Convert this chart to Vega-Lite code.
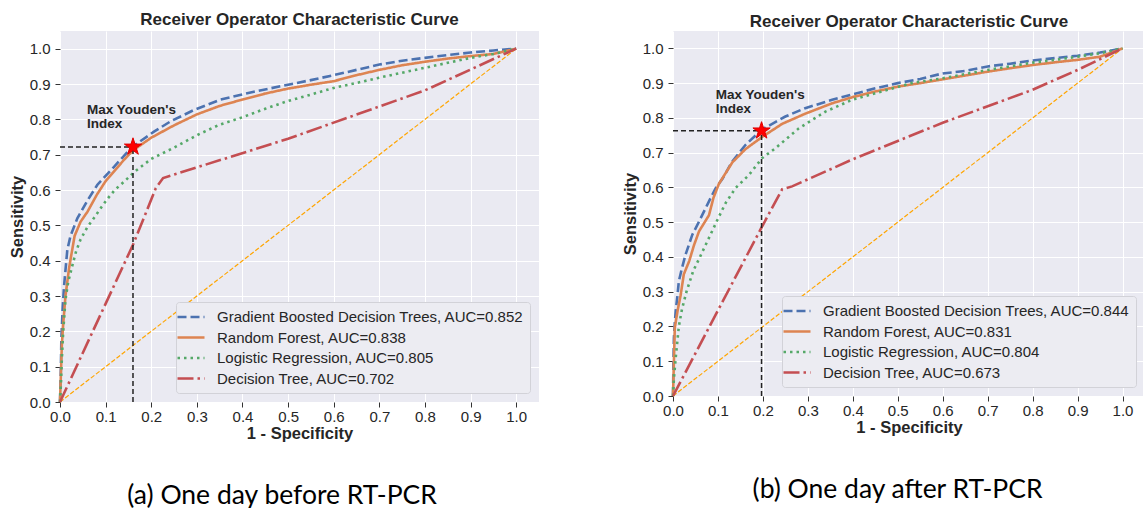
{
  "$schema": "https://vega.github.io/schema/vega-lite/v6.json",
  "background": "white",
  "padding": {"left": 9, "top": 11, "right": 0, "bottom": 0},
  "spacing": 83,
  "config": {
    "view": {"fill": "#EAEAF2", "stroke": null},
    "axis": {
      "domain": false, "grid": true, "gridColor": "#FFFFFF", "gridWidth": 1,
      "tickColor": "#333333", "tickSize": 5, "tickWidth": 1,
      "labelFont": "Liberation Sans", "labelFontSize": 15, "labelColor": "#262626", "labelFlush": false,
      "titleFont": "Liberation Sans", "titleFontSize": 16.5, "titleFontWeight": "bold", "titleColor": "#262626",
      "values": [0, 0.1, 0.2, 0.3, 0.4, 0.5, 0.6, 0.7, 0.8, 0.9, 1], "format": ".1f", "labelOverlap": false
    },
    "axisX": {"titlePadding": 1, "labelPadding": 2},
    "axisY": {"titlePadding": 4, "labelPadding": 5},
    "legend": {
      "orient": "bottom-right", "offset": 9,
      "fillColor": "#ECECF2", "strokeColor": "#D2D2D8", "cornerRadius": 3, "padding": 6,
      "symbolType": "M-1.8,0L1.8,0", "symbolSize": 225, "symbolStrokeWidth": 2.6,
      "labelFont": "Liberation Sans", "labelFontSize": 15, "labelColor": "#262626",
      "labelOffset": 17, "rowPadding": 3.5, "labelLimit": 600
    }
  },
  "datasets": {
    "diag": [{"fpr": 0, "tpr": 0}, {"fpr": 1, "tpr": 1}],
    "youdenA": [{"fpr": 0.16, "tpr": 0.722, "base": 0}],
    "youdenB": [{"fpr": 0.197, "tpr": 0.763, "base": 0}],
    "noteA": [{"fpr": 0.059, "tpr": 0.815, "label": "Max Youden's\nIndex"}],
    "noteB": [{"fpr": 0.095, "tpr": 0.853, "label": "Max Youden's\nIndex"}],
    "rocA": [
      {"series": "Gradient Boosted Decision Trees, AUC=0.852", "fpr": 0, "tpr": 0},
      {"series": "Gradient Boosted Decision Trees, AUC=0.852", "fpr": 0.002, "tpr": 0.1},
      {"series": "Gradient Boosted Decision Trees, AUC=0.852", "fpr": 0.003, "tpr": 0.18},
      {"series": "Gradient Boosted Decision Trees, AUC=0.852", "fpr": 0.006, "tpr": 0.27},
      {"series": "Gradient Boosted Decision Trees, AUC=0.852", "fpr": 0.009, "tpr": 0.33},
      {"series": "Gradient Boosted Decision Trees, AUC=0.852", "fpr": 0.016, "tpr": 0.43},
      {"series": "Gradient Boosted Decision Trees, AUC=0.852", "fpr": 0.023, "tpr": 0.47},
      {"series": "Gradient Boosted Decision Trees, AUC=0.852", "fpr": 0.038, "tpr": 0.52},
      {"series": "Gradient Boosted Decision Trees, AUC=0.852", "fpr": 0.06, "tpr": 0.57},
      {"series": "Gradient Boosted Decision Trees, AUC=0.852", "fpr": 0.082, "tpr": 0.615},
      {"series": "Gradient Boosted Decision Trees, AUC=0.852", "fpr": 0.118, "tpr": 0.665},
      {"series": "Gradient Boosted Decision Trees, AUC=0.852", "fpr": 0.158, "tpr": 0.722},
      {"series": "Gradient Boosted Decision Trees, AUC=0.852", "fpr": 0.206, "tpr": 0.765},
      {"series": "Gradient Boosted Decision Trees, AUC=0.852", "fpr": 0.242, "tpr": 0.794},
      {"series": "Gradient Boosted Decision Trees, AUC=0.852", "fpr": 0.293, "tpr": 0.826},
      {"series": "Gradient Boosted Decision Trees, AUC=0.852", "fpr": 0.352, "tpr": 0.856},
      {"series": "Gradient Boosted Decision Trees, AUC=0.852", "fpr": 0.425, "tpr": 0.878},
      {"series": "Gradient Boosted Decision Trees, AUC=0.852", "fpr": 0.5, "tpr": 0.898},
      {"series": "Gradient Boosted Decision Trees, AUC=0.852", "fpr": 0.55, "tpr": 0.911},
      {"series": "Gradient Boosted Decision Trees, AUC=0.852", "fpr": 0.6, "tpr": 0.925},
      {"series": "Gradient Boosted Decision Trees, AUC=0.852", "fpr": 0.65, "tpr": 0.94},
      {"series": "Gradient Boosted Decision Trees, AUC=0.852", "fpr": 0.7, "tpr": 0.955},
      {"series": "Gradient Boosted Decision Trees, AUC=0.852", "fpr": 0.75, "tpr": 0.966},
      {"series": "Gradient Boosted Decision Trees, AUC=0.852", "fpr": 0.8, "tpr": 0.974},
      {"series": "Gradient Boosted Decision Trees, AUC=0.852", "fpr": 0.85, "tpr": 0.982},
      {"series": "Gradient Boosted Decision Trees, AUC=0.852", "fpr": 0.9, "tpr": 0.989},
      {"series": "Gradient Boosted Decision Trees, AUC=0.852", "fpr": 0.95, "tpr": 0.995},
      {"series": "Gradient Boosted Decision Trees, AUC=0.852", "fpr": 1, "tpr": 1},
      {"series": "Random Forest, AUC=0.838", "fpr": 0, "tpr": 0},
      {"series": "Random Forest, AUC=0.838", "fpr": 0.002, "tpr": 0.08},
      {"series": "Random Forest, AUC=0.838", "fpr": 0.004, "tpr": 0.16},
      {"series": "Random Forest, AUC=0.838", "fpr": 0.007, "tpr": 0.22},
      {"series": "Random Forest, AUC=0.838", "fpr": 0.012, "tpr": 0.3},
      {"series": "Random Forest, AUC=0.838", "fpr": 0.02, "tpr": 0.38},
      {"series": "Random Forest, AUC=0.838", "fpr": 0.028, "tpr": 0.44},
      {"series": "Random Forest, AUC=0.838", "fpr": 0.032, "tpr": 0.47},
      {"series": "Random Forest, AUC=0.838", "fpr": 0.045, "tpr": 0.51},
      {"series": "Random Forest, AUC=0.838", "fpr": 0.06, "tpr": 0.538},
      {"series": "Random Forest, AUC=0.838", "fpr": 0.08, "tpr": 0.585},
      {"series": "Random Forest, AUC=0.838", "fpr": 0.1, "tpr": 0.625},
      {"series": "Random Forest, AUC=0.838", "fpr": 0.12, "tpr": 0.655},
      {"series": "Random Forest, AUC=0.838", "fpr": 0.14, "tpr": 0.685},
      {"series": "Random Forest, AUC=0.838", "fpr": 0.16, "tpr": 0.712},
      {"series": "Random Forest, AUC=0.838", "fpr": 0.2, "tpr": 0.748},
      {"series": "Random Forest, AUC=0.838", "fpr": 0.25, "tpr": 0.783},
      {"series": "Random Forest, AUC=0.838", "fpr": 0.3, "tpr": 0.814},
      {"series": "Random Forest, AUC=0.838", "fpr": 0.35, "tpr": 0.838},
      {"series": "Random Forest, AUC=0.838", "fpr": 0.4, "tpr": 0.856},
      {"series": "Random Forest, AUC=0.838", "fpr": 0.45, "tpr": 0.873},
      {"series": "Random Forest, AUC=0.838", "fpr": 0.5, "tpr": 0.887},
      {"series": "Random Forest, AUC=0.838", "fpr": 0.55, "tpr": 0.898},
      {"series": "Random Forest, AUC=0.838", "fpr": 0.6, "tpr": 0.908},
      {"series": "Random Forest, AUC=0.838", "fpr": 0.65, "tpr": 0.925},
      {"series": "Random Forest, AUC=0.838", "fpr": 0.7, "tpr": 0.94},
      {"series": "Random Forest, AUC=0.838", "fpr": 0.75, "tpr": 0.953},
      {"series": "Random Forest, AUC=0.838", "fpr": 0.8, "tpr": 0.963},
      {"series": "Random Forest, AUC=0.838", "fpr": 0.85, "tpr": 0.972},
      {"series": "Random Forest, AUC=0.838", "fpr": 0.9, "tpr": 0.979},
      {"series": "Random Forest, AUC=0.838", "fpr": 0.95, "tpr": 0.985},
      {"series": "Random Forest, AUC=0.838", "fpr": 1, "tpr": 1},
      {"series": "Logistic Regression, AUC=0.805", "fpr": 0, "tpr": 0},
      {"series": "Logistic Regression, AUC=0.805", "fpr": 0.002, "tpr": 0.05},
      {"series": "Logistic Regression, AUC=0.805", "fpr": 0.004, "tpr": 0.12},
      {"series": "Logistic Regression, AUC=0.805", "fpr": 0.007, "tpr": 0.2},
      {"series": "Logistic Regression, AUC=0.805", "fpr": 0.012, "tpr": 0.29},
      {"series": "Logistic Regression, AUC=0.805", "fpr": 0.018, "tpr": 0.34},
      {"series": "Logistic Regression, AUC=0.805", "fpr": 0.027, "tpr": 0.386},
      {"series": "Logistic Regression, AUC=0.805", "fpr": 0.035, "tpr": 0.425},
      {"series": "Logistic Regression, AUC=0.805", "fpr": 0.045, "tpr": 0.46},
      {"series": "Logistic Regression, AUC=0.805", "fpr": 0.06, "tpr": 0.495},
      {"series": "Logistic Regression, AUC=0.805", "fpr": 0.074, "tpr": 0.52},
      {"series": "Logistic Regression, AUC=0.805", "fpr": 0.09, "tpr": 0.55},
      {"series": "Logistic Regression, AUC=0.805", "fpr": 0.104, "tpr": 0.575},
      {"series": "Logistic Regression, AUC=0.805", "fpr": 0.12, "tpr": 0.6},
      {"series": "Logistic Regression, AUC=0.805", "fpr": 0.14, "tpr": 0.623},
      {"series": "Logistic Regression, AUC=0.805", "fpr": 0.162, "tpr": 0.65},
      {"series": "Logistic Regression, AUC=0.805", "fpr": 0.2, "tpr": 0.688},
      {"series": "Logistic Regression, AUC=0.805", "fpr": 0.25, "tpr": 0.72},
      {"series": "Logistic Regression, AUC=0.805", "fpr": 0.3, "tpr": 0.755},
      {"series": "Logistic Regression, AUC=0.805", "fpr": 0.35, "tpr": 0.785},
      {"series": "Logistic Regression, AUC=0.805", "fpr": 0.4, "tpr": 0.806},
      {"series": "Logistic Regression, AUC=0.805", "fpr": 0.45, "tpr": 0.83},
      {"series": "Logistic Regression, AUC=0.805", "fpr": 0.5, "tpr": 0.852},
      {"series": "Logistic Regression, AUC=0.805", "fpr": 0.55, "tpr": 0.87},
      {"series": "Logistic Regression, AUC=0.805", "fpr": 0.6, "tpr": 0.889},
      {"series": "Logistic Regression, AUC=0.805", "fpr": 0.65, "tpr": 0.903},
      {"series": "Logistic Regression, AUC=0.805", "fpr": 0.7, "tpr": 0.918},
      {"series": "Logistic Regression, AUC=0.805", "fpr": 0.75, "tpr": 0.932},
      {"series": "Logistic Regression, AUC=0.805", "fpr": 0.8, "tpr": 0.946},
      {"series": "Logistic Regression, AUC=0.805", "fpr": 0.85, "tpr": 0.96},
      {"series": "Logistic Regression, AUC=0.805", "fpr": 0.9, "tpr": 0.974},
      {"series": "Logistic Regression, AUC=0.805", "fpr": 0.95, "tpr": 0.985},
      {"series": "Logistic Regression, AUC=0.805", "fpr": 1, "tpr": 1},
      {"series": "Decision Tree, AUC=0.702", "fpr": 0, "tpr": 0},
      {"series": "Decision Tree, AUC=0.702", "fpr": 0.16, "tpr": 0.445},
      {"series": "Decision Tree, AUC=0.702", "fpr": 0.21, "tpr": 0.605},
      {"series": "Decision Tree, AUC=0.702", "fpr": 0.226, "tpr": 0.634},
      {"series": "Decision Tree, AUC=0.702", "fpr": 0.5, "tpr": 0.745},
      {"series": "Decision Tree, AUC=0.702", "fpr": 0.8, "tpr": 0.882},
      {"series": "Decision Tree, AUC=0.702", "fpr": 1, "tpr": 1}
    ],
    "rocB": [
      {"series": "Gradient Boosted Decision Trees, AUC=0.844", "fpr": 0, "tpr": 0},
      {"series": "Gradient Boosted Decision Trees, AUC=0.844", "fpr": 0.001, "tpr": 0.1},
      {"series": "Gradient Boosted Decision Trees, AUC=0.844", "fpr": 0.002, "tpr": 0.167},
      {"series": "Gradient Boosted Decision Trees, AUC=0.844", "fpr": 0.004, "tpr": 0.21},
      {"series": "Gradient Boosted Decision Trees, AUC=0.844", "fpr": 0.006, "tpr": 0.244},
      {"series": "Gradient Boosted Decision Trees, AUC=0.844", "fpr": 0.01, "tpr": 0.29},
      {"series": "Gradient Boosted Decision Trees, AUC=0.844", "fpr": 0.013, "tpr": 0.33},
      {"series": "Gradient Boosted Decision Trees, AUC=0.844", "fpr": 0.02, "tpr": 0.368},
      {"series": "Gradient Boosted Decision Trees, AUC=0.844", "fpr": 0.028, "tpr": 0.407},
      {"series": "Gradient Boosted Decision Trees, AUC=0.844", "fpr": 0.043, "tpr": 0.464},
      {"series": "Gradient Boosted Decision Trees, AUC=0.844", "fpr": 0.058, "tpr": 0.502},
      {"series": "Gradient Boosted Decision Trees, AUC=0.844", "fpr": 0.08, "tpr": 0.56},
      {"series": "Gradient Boosted Decision Trees, AUC=0.844", "fpr": 0.095, "tpr": 0.598},
      {"series": "Gradient Boosted Decision Trees, AUC=0.844", "fpr": 0.11, "tpr": 0.625},
      {"series": "Gradient Boosted Decision Trees, AUC=0.844", "fpr": 0.132, "tpr": 0.675},
      {"series": "Gradient Boosted Decision Trees, AUC=0.844", "fpr": 0.161, "tpr": 0.722},
      {"series": "Gradient Boosted Decision Trees, AUC=0.844", "fpr": 0.197, "tpr": 0.766},
      {"series": "Gradient Boosted Decision Trees, AUC=0.844", "fpr": 0.25, "tpr": 0.804},
      {"series": "Gradient Boosted Decision Trees, AUC=0.844", "fpr": 0.294, "tpr": 0.828},
      {"series": "Gradient Boosted Decision Trees, AUC=0.844", "fpr": 0.354, "tpr": 0.852},
      {"series": "Gradient Boosted Decision Trees, AUC=0.844", "fpr": 0.4, "tpr": 0.868},
      {"series": "Gradient Boosted Decision Trees, AUC=0.844", "fpr": 0.45, "tpr": 0.885},
      {"series": "Gradient Boosted Decision Trees, AUC=0.844", "fpr": 0.5, "tpr": 0.9},
      {"series": "Gradient Boosted Decision Trees, AUC=0.844", "fpr": 0.55, "tpr": 0.912},
      {"series": "Gradient Boosted Decision Trees, AUC=0.844", "fpr": 0.6, "tpr": 0.928},
      {"series": "Gradient Boosted Decision Trees, AUC=0.844", "fpr": 0.65, "tpr": 0.935},
      {"series": "Gradient Boosted Decision Trees, AUC=0.844", "fpr": 0.7, "tpr": 0.948},
      {"series": "Gradient Boosted Decision Trees, AUC=0.844", "fpr": 0.75, "tpr": 0.956},
      {"series": "Gradient Boosted Decision Trees, AUC=0.844", "fpr": 0.8, "tpr": 0.965},
      {"series": "Gradient Boosted Decision Trees, AUC=0.844", "fpr": 0.85, "tpr": 0.972},
      {"series": "Gradient Boosted Decision Trees, AUC=0.844", "fpr": 0.9, "tpr": 0.979},
      {"series": "Gradient Boosted Decision Trees, AUC=0.844", "fpr": 0.95, "tpr": 0.988},
      {"series": "Gradient Boosted Decision Trees, AUC=0.844", "fpr": 1, "tpr": 1},
      {"series": "Random Forest, AUC=0.831", "fpr": 0, "tpr": 0},
      {"series": "Random Forest, AUC=0.831", "fpr": 0.002, "tpr": 0.1},
      {"series": "Random Forest, AUC=0.831", "fpr": 0.004, "tpr": 0.196},
      {"series": "Random Forest, AUC=0.831", "fpr": 0.01, "tpr": 0.244},
      {"series": "Random Forest, AUC=0.831", "fpr": 0.017, "tpr": 0.29},
      {"series": "Random Forest, AUC=0.831", "fpr": 0.024, "tpr": 0.35},
      {"series": "Random Forest, AUC=0.831", "fpr": 0.036, "tpr": 0.388},
      {"series": "Random Forest, AUC=0.831", "fpr": 0.047, "tpr": 0.435},
      {"series": "Random Forest, AUC=0.831", "fpr": 0.058, "tpr": 0.474},
      {"series": "Random Forest, AUC=0.831", "fpr": 0.08, "tpr": 0.52},
      {"series": "Random Forest, AUC=0.831", "fpr": 0.09, "tpr": 0.57},
      {"series": "Random Forest, AUC=0.831", "fpr": 0.102, "tpr": 0.61},
      {"series": "Random Forest, AUC=0.831", "fpr": 0.132, "tpr": 0.672},
      {"series": "Random Forest, AUC=0.831", "fpr": 0.161, "tpr": 0.71},
      {"series": "Random Forest, AUC=0.831", "fpr": 0.198, "tpr": 0.745},
      {"series": "Random Forest, AUC=0.831", "fpr": 0.243, "tpr": 0.783},
      {"series": "Random Forest, AUC=0.831", "fpr": 0.294, "tpr": 0.812},
      {"series": "Random Forest, AUC=0.831", "fpr": 0.354, "tpr": 0.842},
      {"series": "Random Forest, AUC=0.831", "fpr": 0.4, "tpr": 0.86},
      {"series": "Random Forest, AUC=0.831", "fpr": 0.45, "tpr": 0.876},
      {"series": "Random Forest, AUC=0.831", "fpr": 0.5, "tpr": 0.89},
      {"series": "Random Forest, AUC=0.831", "fpr": 0.55, "tpr": 0.9},
      {"series": "Random Forest, AUC=0.831", "fpr": 0.6, "tpr": 0.911},
      {"series": "Random Forest, AUC=0.831", "fpr": 0.65, "tpr": 0.922},
      {"series": "Random Forest, AUC=0.831", "fpr": 0.7, "tpr": 0.933},
      {"series": "Random Forest, AUC=0.831", "fpr": 0.75, "tpr": 0.943},
      {"series": "Random Forest, AUC=0.831", "fpr": 0.8, "tpr": 0.952},
      {"series": "Random Forest, AUC=0.831", "fpr": 0.85, "tpr": 0.96},
      {"series": "Random Forest, AUC=0.831", "fpr": 0.9, "tpr": 0.967},
      {"series": "Random Forest, AUC=0.831", "fpr": 0.95, "tpr": 0.976},
      {"series": "Random Forest, AUC=0.831", "fpr": 1, "tpr": 1},
      {"series": "Logistic Regression, AUC=0.804", "fpr": 0, "tpr": 0},
      {"series": "Logistic Regression, AUC=0.804", "fpr": 0.002, "tpr": 0.05},
      {"series": "Logistic Regression, AUC=0.804", "fpr": 0.006, "tpr": 0.11},
      {"series": "Logistic Regression, AUC=0.804", "fpr": 0.013, "tpr": 0.2},
      {"series": "Logistic Regression, AUC=0.804", "fpr": 0.02, "tpr": 0.25},
      {"series": "Logistic Regression, AUC=0.804", "fpr": 0.03, "tpr": 0.3},
      {"series": "Logistic Regression, AUC=0.804", "fpr": 0.045, "tpr": 0.36},
      {"series": "Logistic Regression, AUC=0.804", "fpr": 0.06, "tpr": 0.4},
      {"series": "Logistic Regression, AUC=0.804", "fpr": 0.08, "tpr": 0.455},
      {"series": "Logistic Regression, AUC=0.804", "fpr": 0.1, "tpr": 0.51},
      {"series": "Logistic Regression, AUC=0.804", "fpr": 0.117, "tpr": 0.555},
      {"series": "Logistic Regression, AUC=0.804", "fpr": 0.139, "tpr": 0.598},
      {"series": "Logistic Regression, AUC=0.804", "fpr": 0.169, "tpr": 0.636},
      {"series": "Logistic Regression, AUC=0.804", "fpr": 0.198, "tpr": 0.684},
      {"series": "Logistic Regression, AUC=0.804", "fpr": 0.228, "tpr": 0.713},
      {"series": "Logistic Regression, AUC=0.804", "fpr": 0.28, "tpr": 0.77},
      {"series": "Logistic Regression, AUC=0.804", "fpr": 0.339, "tpr": 0.818},
      {"series": "Logistic Regression, AUC=0.804", "fpr": 0.398, "tpr": 0.852},
      {"series": "Logistic Regression, AUC=0.804", "fpr": 0.464, "tpr": 0.876},
      {"series": "Logistic Regression, AUC=0.804", "fpr": 0.53, "tpr": 0.9},
      {"series": "Logistic Regression, AUC=0.804", "fpr": 0.6, "tpr": 0.914},
      {"series": "Logistic Regression, AUC=0.804", "fpr": 0.65, "tpr": 0.926},
      {"series": "Logistic Regression, AUC=0.804", "fpr": 0.7, "tpr": 0.938},
      {"series": "Logistic Regression, AUC=0.804", "fpr": 0.75, "tpr": 0.948},
      {"series": "Logistic Regression, AUC=0.804", "fpr": 0.8, "tpr": 0.959},
      {"series": "Logistic Regression, AUC=0.804", "fpr": 0.85, "tpr": 0.967},
      {"series": "Logistic Regression, AUC=0.804", "fpr": 0.9, "tpr": 0.976},
      {"series": "Logistic Regression, AUC=0.804", "fpr": 0.95, "tpr": 0.986},
      {"series": "Logistic Regression, AUC=0.804", "fpr": 1, "tpr": 1},
      {"series": "Decision Tree, AUC=0.673", "fpr": 0, "tpr": 0},
      {"series": "Decision Tree, AUC=0.673", "fpr": 0.195, "tpr": 0.48},
      {"series": "Decision Tree, AUC=0.673", "fpr": 0.243, "tpr": 0.595},
      {"series": "Decision Tree, AUC=0.673", "fpr": 0.265, "tpr": 0.603},
      {"series": "Decision Tree, AUC=0.673", "fpr": 0.4, "tpr": 0.681},
      {"series": "Decision Tree, AUC=0.673", "fpr": 0.6, "tpr": 0.786},
      {"series": "Decision Tree, AUC=0.673", "fpr": 0.8, "tpr": 0.881},
      {"series": "Decision Tree, AUC=0.673", "fpr": 0.9, "tpr": 0.938},
      {"series": "Decision Tree, AUC=0.673", "fpr": 1, "tpr": 1}
    ]
  },
  "resolve": {
    "scale": {"color": "independent", "strokeDash": "independent"},
    "legend": {"color": "independent", "strokeDash": "independent"}
  },
  "hconcat": [
    {
      "title": {"text": "(a) One day before RT-PCR", "orient": "bottom", "anchor": "middle", "frame": "bounds", "font": "Lato", "fontSize": 26.5, "fontWeight": "normal", "color": "#000000", "offset": 41, "dx": 8},
      "resolve": {
        "scale": {"color": "independent", "strokeDash": "independent"},
        "legend": {"color": "independent", "strokeDash": "independent"}
      },
      "vconcat": [
        {
          "width": 479,
          "height": 371,
          "title": {"text": "Receiver Operator Characteristic Curve", "font": "Liberation Sans", "fontSize": 17, "fontWeight": "bold", "color": "#262626", "offset": 2},
          "encoding": {
            "x": {"field": "fpr", "type": "quantitative", "scale": {"domain": [0, 1.05], "nice": false, "zero": false}, "axis": {"title": "1 - Specificity"}},
            "y": {"field": "tpr", "type": "quantitative", "scale": {"domain": [0, 1.05], "nice": false, "zero": false}, "axis": {"title": "Sensitivity"}}
          },
          "layer": [
            {
              "data": {"name": "diag"},
              "mark": {"type": "line", "color": "#FFA500", "strokeWidth": 1.2, "strokeDash": [4.5, 2]}
            },
            {
              "data": {"name": "rocA"},
              "mark": {"type": "line", "strokeWidth": 2.6},
              "encoding": {
                "order": {"field": "tpr", "type": "quantitative"},
                "color": {"field": "series", "type": "nominal", "title": null, "scale": {"domain": ["Gradient Boosted Decision Trees, AUC=0.852", "Random Forest, AUC=0.838", "Logistic Regression, AUC=0.805", "Decision Tree, AUC=0.702"], "range": ["#4C72B0", "#DD8452", "#55A868", "#C44E52"]}},
                "strokeDash": {"field": "series", "type": "nominal", "title": null, "scale": {"domain": ["Gradient Boosted Decision Trees, AUC=0.852", "Random Forest, AUC=0.838", "Logistic Regression, AUC=0.805", "Decision Tree, AUC=0.702"], "range": [[9, 4], [1, 0], [2.5, 4], [16, 4, 2.5, 4]]}}
              }
            },
            {
              "data": {"name": "youdenA"},
              "mark": {"type": "rule", "color": "#222222", "strokeWidth": 1.5, "strokeDash": [5, 3]},
              "encoding": {"x": {"field": "base", "type": "quantitative"}, "x2": {"field": "fpr"}}
            },
            {
              "data": {"name": "youdenA"},
              "mark": {"type": "rule", "color": "#222222", "strokeWidth": 1.5, "strokeDash": [5, 3]},
              "encoding": {"y": {"field": "base", "type": "quantitative"}, "y2": {"field": "tpr"}}
            },
            {
              "data": {"name": "youdenA"},
              "mark": {"type": "point", "shape": "M0,-1L0.2245,-0.309L0.951,-0.309L0.363,0.118L0.588,0.809L0,0.382L-0.588,0.809L-0.363,0.118L-0.951,-0.309L-0.2245,-0.309Z", "filled": true, "color": "#FF0000", "stroke": "#E00000", "strokeWidth": 1, "size": 330, "opacity": 1}
            },
            {
              "data": {"name": "noteA"},
              "mark": {"type": "text", "align": "left", "baseline": "alphabetic", "font": "Liberation Sans", "fontSize": 13.5, "fontWeight": "bold", "lineHeight": 14, "lineBreak": "\n", "color": "#262626"},
              "encoding": {"text": {"field": "label", "type": "nominal"}}
            }
          ]
        }
      ]
    },
    {
      "title": {"text": "(b) One day after RT-PCR", "orient": "bottom", "anchor": "middle", "frame": "bounds", "font": "Lato", "fontSize": 26.5, "fontWeight": "normal", "color": "#000000", "offset": 41, "dx": 14},
      "resolve": {
        "scale": {"color": "independent", "strokeDash": "independent"},
        "legend": {"color": "independent", "strokeDash": "independent"}
      },
      "vconcat": [
        {
          "width": 472,
          "height": 365,
          "title": {"text": "Receiver Operator Characteristic Curve", "font": "Liberation Sans", "fontSize": 17, "fontWeight": "bold", "color": "#262626", "offset": 0},
          "encoding": {
            "x": {"field": "fpr", "type": "quantitative", "scale": {"domain": [0, 1.05], "nice": false, "zero": false}, "axis": {"title": "1 - Specificity"}},
            "y": {"field": "tpr", "type": "quantitative", "scale": {"domain": [0, 1.05], "nice": false, "zero": false}, "axis": {"title": "Sensitivity"}}
          },
          "layer": [
            {
              "data": {"name": "diag"},
              "mark": {"type": "line", "color": "#FFA500", "strokeWidth": 1.2, "strokeDash": [4.5, 2]}
            },
            {
              "data": {"name": "rocB"},
              "mark": {"type": "line", "strokeWidth": 2.6},
              "encoding": {
                "order": {"field": "tpr", "type": "quantitative"},
                "color": {"field": "series", "type": "nominal", "title": null, "scale": {"domain": ["Gradient Boosted Decision Trees, AUC=0.844", "Random Forest, AUC=0.831", "Logistic Regression, AUC=0.804", "Decision Tree, AUC=0.673"], "range": ["#4C72B0", "#DD8452", "#55A868", "#C44E52"]}},
                "strokeDash": {"field": "series", "type": "nominal", "title": null, "scale": {"domain": ["Gradient Boosted Decision Trees, AUC=0.844", "Random Forest, AUC=0.831", "Logistic Regression, AUC=0.804", "Decision Tree, AUC=0.673"], "range": [[9, 4], [1, 0], [2.5, 4], [16, 4, 2.5, 4]]}}
              }
            },
            {
              "data": {"name": "youdenB"},
              "mark": {"type": "rule", "color": "#222222", "strokeWidth": 1.5, "strokeDash": [5, 3]},
              "encoding": {"x": {"field": "base", "type": "quantitative"}, "x2": {"field": "fpr"}}
            },
            {
              "data": {"name": "youdenB"},
              "mark": {"type": "rule", "color": "#222222", "strokeWidth": 1.5, "strokeDash": [5, 3]},
              "encoding": {"y": {"field": "base", "type": "quantitative"}, "y2": {"field": "tpr"}}
            },
            {
              "data": {"name": "youdenB"},
              "mark": {"type": "point", "shape": "M0,-1L0.2245,-0.309L0.951,-0.309L0.363,0.118L0.588,0.809L0,0.382L-0.588,0.809L-0.363,0.118L-0.951,-0.309L-0.2245,-0.309Z", "filled": true, "color": "#FF0000", "stroke": "#E00000", "strokeWidth": 1, "size": 330, "opacity": 1}
            },
            {
              "data": {"name": "noteB"},
              "mark": {"type": "text", "align": "left", "baseline": "alphabetic", "font": "Liberation Sans", "fontSize": 13.5, "fontWeight": "bold", "lineHeight": 14, "lineBreak": "\n", "color": "#262626"},
              "encoding": {"text": {"field": "label", "type": "nominal"}}
            }
          ]
        }
      ]
    }
  ]
}
